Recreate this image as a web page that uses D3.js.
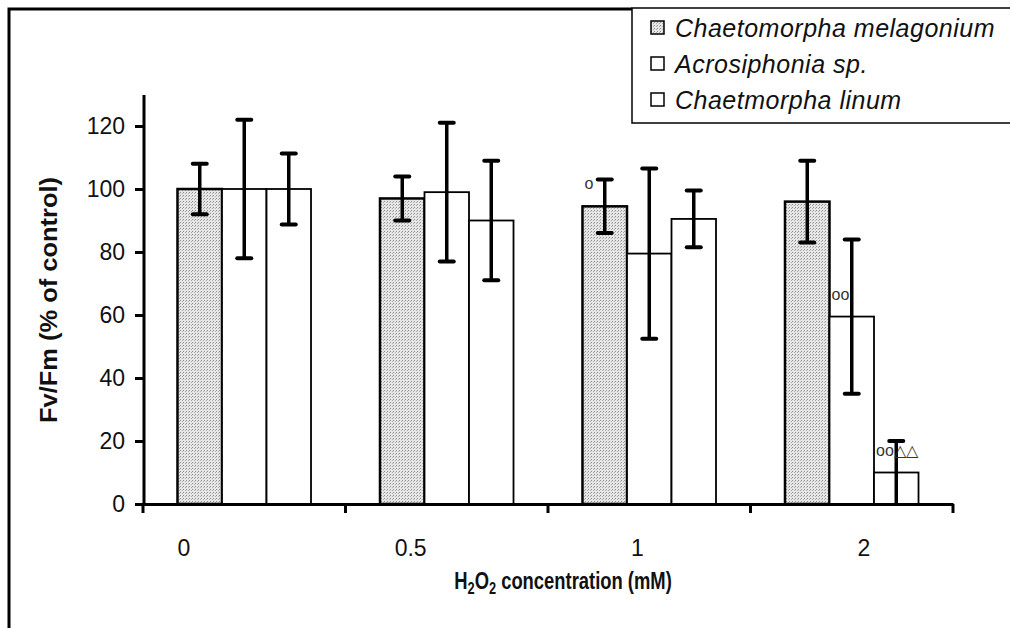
<!DOCTYPE html>
<html>
<head>
<meta charset="utf-8">
<script src="https://cdn.jsdelivr.net/npm/d3@7"></script>
<style>
  body { margin: 0; background: #fff; }
  text { font-family: "Liberation Sans", Arial, sans-serif; }
</style>
</head>
<body>
<div id="chart"></div>
<script>
let categories = ['0', '0.5', '1', '2'];
let seriesNames = ['Chaetomorpha melagonium', 'Acrosiphonia sp.', 'Chaetmorpha linum'];
let melagonium = [100, 97, 94.5, 96];
let melagoniumErr = [8, 7, 8.5, 13];
let acrosiphonia = [100, 99, 79.5, 59.5];
let acrosiphoniaErr = [22, 22, 27, 24.5];
let linum = [100, 90, 90.5, 10];
let linumErr = [11.3, 19, 9, 10];
let yTicks = [0, 20, 40, 60, 80, 100, 120];
let marks = [
  {cat: '1', series: 0, text: 'o'},
  {cat: '2', series: 1, text: 'oo'},
  {cat: '2', series: 2, text: 'oo\u25B3\u25B3'}
];

let width = 1010,
    height = 628;

let values = [melagonium, acrosiphonia, linum];
let errors = [melagoniumErr, acrosiphoniaErr, linumErr];
let rows = [];
categories.forEach((c, i) => {
  seriesNames.forEach((s, j) => {
    rows.push({cat: c, series: j, value: values[j][i], err: errors[j][i]});
  });
});

let svg = d3.select('#chart')
  .append('svg')
  .attr('width', width)
  .attr('height', height);

let defs = svg.append('defs');
let pat = defs.append('pattern')
  .attr('id', 'stipple')
  .attr('patternUnits', 'userSpaceOnUse')
  .attr('width', 3)
  .attr('height', 3);
pat.append('rect').attr('width', 3).attr('height', 3).attr('fill', '#e6e6e6');
pat.append('rect').attr('x', 0).attr('y', 0).attr('width', 1).attr('height', 1).attr('fill', '#8f8f8f');
pat.append('rect').attr('x', 2).attr('y', 1).attr('width', 1).attr('height', 1).attr('fill', '#adadad');

let x = d3.scaleBand()
  .domain(categories)
  .range([143, 953])
  .padding(0);

let xs = d3.scaleBand()
  .domain([0, 1, 2])
  .range([0, x.bandwidth()])
  .paddingInner(0)
  .paddingOuter(0.775);

// tick labels sit a bit off the category centres in the original
let xLabel = d3.scalePoint()
  .domain(categories)
  .range([184, 864]);

let y = d3.scaleLinear()
  .domain([0, 130])
  .range([504, 504 - 130 * 3.15]);

// outer frame
svg.append('path')
  .attr('d', 'M9,628 L9,9 L632,9')
  .attr('fill', 'none')
  .attr('stroke', '#000')
  .attr('stroke-width', 3);

// bars
svg.selectAll('rect.bar')
  .data(rows)
  .enter().append('rect')
    .attr('class', 'bar')
    .attr('x', d => x(d.cat) + xs(d.series))
    .attr('y', d => y(d.value))
    .attr('width', xs.bandwidth())
    .attr('height', d => y(0) - y(d.value))
    .attr('fill', d => d.series === 0 ? 'url(#stipple)' : '#fff')
    .attr('stroke', '#000')
    .attr('stroke-width', d => d.series === 0 ? 2.5 : 1.8);

// error bars
let eb = svg.selectAll('g.err')
  .data(rows)
  .enter().append('g')
    .attr('class', 'err')
    .attr('transform', d => `translate(${x(d.cat) + xs(d.series) + xs.bandwidth() / 2},0)`);
eb.append('line')
  .attr('y1', d => y(d.value + d.err))
  .attr('y2', d => y(Math.max(0, d.value - d.err)))
  .attr('stroke', '#000')
  .attr('stroke-width', 3.5);
eb.append('line')
  .attr('x1', -7).attr('x2', 7)
  .attr('y1', d => y(d.value + d.err))
  .attr('y2', d => y(d.value + d.err))
  .attr('stroke', '#000')
  .attr('stroke-width', 4)
  .attr('stroke-linecap', 'round');
eb.filter(d => d.value - d.err > 0).append('line')
  .attr('x1', -7).attr('x2', 7)
  .attr('y1', d => y(d.value - d.err))
  .attr('y2', d => y(d.value - d.err))
  .attr('stroke', '#000')
  .attr('stroke-width', 4)
  .attr('stroke-linecap', 'round');

// significance marks
svg.selectAll('text.sig')
  .data(marks)
  .enter().append('text')
    .attr('class', 'sig')
    .attr('x', d => x(d.cat) + xs(d.series) + 2)
    .attr('y', d => y(values[d.series][categories.indexOf(d.cat)]) - 17)
    .attr('font-size', 16)
    .attr('fill', '#333')
    .text(d => d.text);

// y axis
let yAxis = svg.append('g')
  .attr('transform', 'translate(144,0)')
  .call(d3.axisLeft(y).tickValues(yTicks).tickSize(9).tickPadding(10));
yAxis.select('.domain')
  .attr('d', `M0,${y(0)}V95`)
  .attr('stroke-width', 3);
yAxis.selectAll('.tick line').attr('stroke-width', 3);
yAxis.selectAll('.tick text')
  .attr('font-size', 23)
  .attr('font-family', '"Liberation Sans", Arial, sans-serif')
  .attr('fill', '#111');

// x axis
let xAxis = svg.append('g')
  .attr('transform', `translate(0,${y(0)})`)
  .call(d3.axisBottom(x).tickValues([]).tickSizeOuter(0));
xAxis.select('.domain').attr('stroke-width', 3);
xAxis.selectAll('line.xt')
  .data(categories.concat(['end']))
  .enter().append('line')
    .attr('class', 'xt')
    .attr('x1', (d, i) => i < categories.length ? x(d) : x.range()[1])
    .attr('x2', (d, i) => i < categories.length ? x(d) : x.range()[1])
    .attr('y1', 0).attr('y2', 9)
    .attr('stroke', '#000')
    .attr('stroke-width', 3);
xAxis.selectAll('text.xl')
  .data(categories)
  .enter().append('text')
    .attr('class', 'xl')
    .attr('x', d => xLabel(d))
    .attr('y', 52)
    .attr('text-anchor', 'middle')
    .attr('font-size', 23)
    .attr('fill', '#111')
    .text(d => d);

// axis titles (the original face is narrower than Liberation, so squeeze it)
let xt = svg.append('text')
  .attr('transform', 'translate(563,589) scale(0.8,1)')
  .attr('text-anchor', 'middle')
  .attr('font-size', 23)
  .attr('font-weight', 'bold')
  .attr('fill', '#111');
xt.append('tspan').text('H');
xt.append('tspan').attr('font-size', 16).attr('dy', 5).text('2');
xt.append('tspan').attr('dy', -5).text('O');
xt.append('tspan').attr('font-size', 16).attr('dy', 5).text('2');
xt.append('tspan').attr('dy', -5).text(' concentration (mM)');

svg.append('text')
  .attr('transform', 'translate(57,300) rotate(-90)')
  .attr('text-anchor', 'middle')
  .attr('font-size', 24)
  .attr('font-weight', 'bold')
  .attr('textLength', 246)
  .attr('lengthAdjust', 'spacingAndGlyphs')
  .attr('fill', '#111')
  .text('Fv/Fm (% of control)');

// legend
let legend = svg.append('g');
legend.append('rect')
  .attr('x', 632).attr('y', 8)
  .attr('width', 420).attr('height', 115)
  .attr('fill', '#fff')
  .attr('stroke', '#000')
  .attr('stroke-width', 1.5);
let li = legend.selectAll('g.li')
  .data(seriesNames)
  .enter().append('g')
    .attr('class', 'li')
    .attr('transform', (d, i) => `translate(651,${28 + i * 36})`);
li.append('rect')
  .attr('x', 0).attr('y', -7)
  .attr('width', 13).attr('height', 13)
  .attr('fill', (d, i) => i === 0 ? 'url(#stipple)' : '#fff')
  .attr('stroke', '#000')
  .attr('stroke-width', 1.5);
li.append('text')
  .attr('x', 24)
  .attr('y', 9)
  .attr('font-size', 25)
  .attr('font-style', 'italic')
  .attr('letter-spacing', 0.5)
  .attr('fill', '#111')
  .text(d => d);
</script>
</body>
</html>
